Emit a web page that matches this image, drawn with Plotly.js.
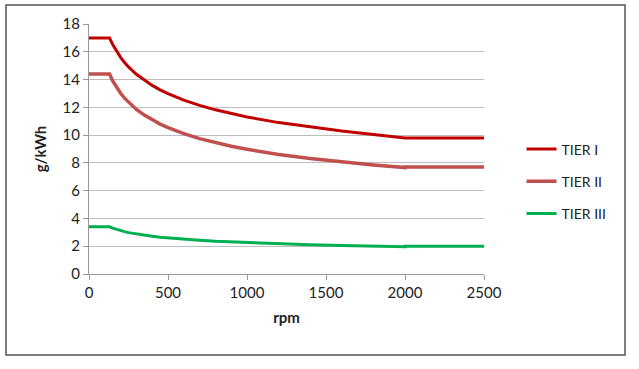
<!DOCTYPE html>
<html><head><meta charset="utf-8">
<script src="https://cdn.plot.ly/plotly-3.0.1.min.js"></script>
<style>html,body{margin:0;padding:0;background:#fff}#c{width:639px;height:369px}</style>
</head><body><div id="c"></div>
<script>
const rpm   = [0, 130, 150, 175, 200, 225, 250, 300, 350, 400, 450, 500, 600, 700, 800, 900, 1000, 1200, 1400, 1600, 1800, 2000, 2000, 2500];
const tier1 = [17.0, 17.0, 16.52, 16.02, 15.60, 15.23, 14.91, 14.38, 13.95, 13.58, 13.26, 12.99, 12.52, 12.14, 11.82, 11.54, 11.31, 10.90, 10.57, 10.29, 10.05, 9.84, 9.8, 9.8];
const tier2 = [14.4, 14.4, 13.90, 13.42, 13.01, 12.66, 12.36, 11.85, 11.44, 11.09, 10.79, 10.54, 10.10, 9.75, 9.46, 9.20, 8.98, 8.61, 8.32, 8.06, 7.85, 7.66, 7.7, 7.7];
const tier3 = [3.4, 3.4, 3.30, 3.20, 3.12, 3.05, 2.98, 2.88, 2.79, 2.72, 2.65, 2.60, 2.50, 2.43, 2.36, 2.31, 2.26, 2.18, 2.11, 2.06, 2.01, 1.97, 2.0, 2.0];
const names = ["TIER I", "TIER II", "TIER III"];
const xTicks = [0, 500, 1000, 1500, 2000, 2500];
const yTicks = [0, 2, 4, 6, 8, 10, 12, 14, 16, 18];

const font = "Lato, 'Open Sans', sans-serif";
const traces = [
  {x: rpm, y: tier1, name: names[0], legendgroup: "a", mode: "lines", line: {color: "#C00000", width: 3}},
  {x: rpm, y: tier2, name: names[1], legendgroup: "b", mode: "lines", line: {color: "#C0504D", width: 3.5}},
  {x: rpm, y: tier3, name: names[2], legendgroup: "c", mode: "lines", line: {color: "#00B050", width: 3}}
];
const layout = {
  width: 639, height: 369,
  margin: {l: 89, r: 155, t: 24, b: 95},
  paper_bgcolor: "#fff", plot_bgcolor: "#fff",
  font: {family: font, color: "#222", size: 15},
  showlegend: true,
  legend: {x: 1.095, y: 0.37, xanchor: "left", yanchor: "middle", font: {size: 14, color: "#222"},
           tracegroupgap: 11, itemwidth: 30, bgcolor: "rgba(0,0,0,0)"},
  xaxis: {range: [0, 2500], tickvals: xTicks, ticks: "outside", ticklen: 5, tickcolor: "#999",
          showgrid: false, zeroline: false, showline: true, linecolor: "#999", linewidth: 1,
          tickfont: {size: 15, color: "#222"},
          title: {text: "<b>rpm</b>", font: {size: 15, color: "#222"}, standoff: 12}},
  yaxis: {range: [0, 18], tickvals: yTicks, ticks: "outside", ticklen: 5, tickcolor: "#999",
          showgrid: true, gridcolor: "#BDBDBD", gridwidth: 1, zeroline: false,
          showline: true, linecolor: "#999", linewidth: 1,
          tickfont: {size: 15, color: "#222"},
          title: {text: "<b>g/kWh</b>", font: {size: 15, color: "#222"}, standoff: 12}},
  shapes: [{type: "rect", xref: "paper", yref: "paper", x0: -0.2101, x1: 1.357, y0: -0.324, y1: 1.076,
            line: {color: "#555", width: 1.5}, fillcolor: "rgba(0,0,0,0)", layer: "below"}]
};
Plotly.newPlot("c", traces, layout, {displayModeBar: false, staticPlot: true});
</script></body></html>
